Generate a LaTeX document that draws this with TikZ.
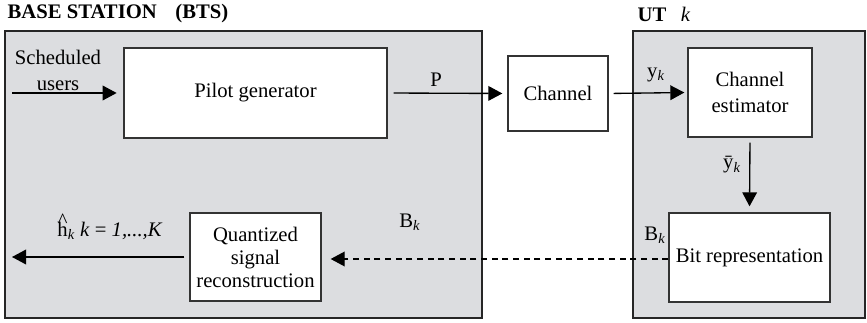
\documentclass[tikz,border=0pt]{standalone}
\usepackage{fontspec}
\setmainfont{Liberation Serif}
\usetikzlibrary{arrows.meta}
\definecolor{panelgray}{RGB}{220,221,224}
\newcommand{\hhat}{{\ooalign{h\cr\hfil\raisebox{0.42em}{\textasciicircum}\hfil\cr}}}
\begin{document}
\begin{tikzpicture}[x=0.75pt,y=-0.75pt]

    \tikzset{
      panel/.style={
        draw=black!85,
        line width=1.5pt,
        fill=panelgray,
      },
      block/.style={
        draw=black!80,
        line width=1pt,
        fill=white,
        inner sep=0pt,
        align=center,
        font=\fontsize{15.5pt}{18pt}\selectfont,
      },
      lbl/.style={
        inner sep=1pt,
        align=center,
        font=\fontsize{15.5pt}{18pt}\selectfont,
      },
      flow/.style={
        line width=1pt,
        -{Triangle[length=10.5pt,width=11pt]},
      },
    }
    \useasboundingbox (0,0) rectangle (867,323);
    \draw[panel] (5,31) rectangle (482,318);
    \draw[panel] (633,31) rectangle (865,318);

	\node[anchor=west,font=\fontsize{15.5pt}{18pt}\selectfont\bfseries] (bts) at (3,14) {BASE STATION\hspace{0.9em}(BTS)};
	\node[anchor=west,font=\fontsize{15.5pt}{18pt}\selectfont\bfseries] (ut) at (633,14) {UT\hspace{0.7em}\textmd{\textit{k}}};

	\node[block,minimum width=197.25pt,minimum height=67.5pt] (pilot) at (255.5,93) {Pilot generator};
	\node[block,minimum width=75pt,minimum height=56.25pt] (channel) at (558,93.5) {Channel};
	\node[block,minimum width=93pt,minimum height=66.75pt,font=\fontsize{15.5pt}{19pt}\selectfont] (est) at (750,92.5) {Channel\\estimator};
	\node[block,minimum width=120.75pt,minimum height=66.75pt] (bitrep) at (749.5,257.5) {Bit representation};
	\node[block,minimum width=98.25pt,minimum height=66pt,font=\fontsize{15.5pt}{17.25pt}\selectfont] (quant) at (255.5,257) {Quantized\\signal\\reconstruction};

	\node[lbl,font=\fontsize{15.5pt}{19.5pt}\selectfont] (sched) at (58,70) {Scheduled\\users};
	\node[lbl] (plbl) at (436,80) {P};
	\node[lbl] (ylbl) at (656,75) {y\textsubscript{\textit{k}}};
	\node[lbl] (ybarlbl) at (732,165) {\=y\textsubscript{\textit{k}}};
	\node[lbl] (blbl) at (410,222) {B\textsubscript{\textit{k}}};
	\node[lbl] (butlbl) at (655,235) {B\textsubscript{\textit{k}}};
	\node[lbl] (hlbl) at (110,231) {\hhat\textsubscript{\textit{k}} \textit{k} = \textit{1,...,K}};

	\coordinate (schedin) at (12,93);
	\coordinate (hout) at (12,257);

	\draw[flow,shorten >=5pt] (schedin) -- (pilot.west);
	\draw[flow,shorten <=4.5pt,shorten >=3.75pt] (pilot.east) -- (channel.west);
	\draw[flow,shorten <=3.75pt,shorten >=2.25pt] (channel.east) -- (est.west);
	\draw[flow,shorten <=3.75pt,shorten >=4.5pt] (est.south) -- (bitrep.north);
	\draw[flow,dash pattern=on 4.5pt off 3.5pt,shorten >=6.75pt] (bitrep.west |- 0,259) -- (quant.east |- 0,259);
	\draw[flow,shorten <=3.75pt] (quant.west) -- (hout);

\end{tikzpicture}
\end{document}
